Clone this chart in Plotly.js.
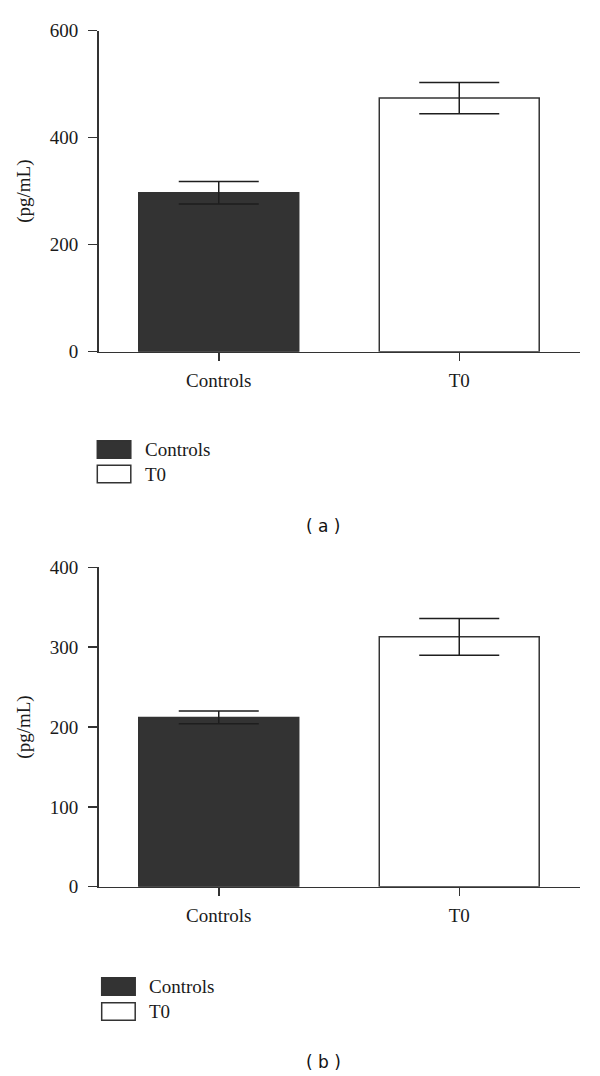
<!DOCTYPE html>
<html>
<head>
<meta charset="utf-8">
<script src="https://cdn.plot.ly/plotly-3.0.1.min.js"></script>
<style>html,body{margin:0;padding:0;background:#fff;}#chart{width:600px;height:1076px;}</style>
</head>
<body>
<div id="chart"></div>
<script>
// ---- data ----
const categories = ['Controls', 'T0'];
const panelA_mean = [297, 474];
const panelA_sem  = [21, 29];
const panelB_mean = [212, 313];
const panelB_sem  = [8, 23];
const barColors = ['#333333', '#ffffff'];
const yTitle = '(pg/mL)';
const captions = ['( a )', '( b )'];

const W = 600, H = 1076;
const px = v => v / W;
const py = v => 1 - v / H;
const ink = '#333333';
const serif = 'Liberation Serif, Times New Roman, serif';
const FS = 19;

function barTrace(mean, sem, xa, ya) {
  return {
    type: 'bar', x: categories, y: mean, xaxis: xa, yaxis: ya,
    width: 0.665,
    marker: {color: barColors, line: {color: ink, width: 1.5}},
    error_y: {type: 'data', array: sem, visible: true, color: '#1e1e1e', thickness: 1.5, width: 40},
    showlegend: false, hoverinfo: 'x+y'
  };
}

const data = [
  barTrace(panelA_mean, panelA_sem, 'x', 'y'),
  barTrace(panelB_mean, panelB_sem, 'x2', 'y2')
];

function xAxis(anchor) {
  return {
    anchor: anchor, domain: [px(98.5), px(579.5)], range: [-0.5, 1.5],
    type: 'category', showline: true, linecolor: ink, linewidth: 1.5,
    ticks: 'outside', ticklen: 8, tickwidth: 1.5, tickcolor: ink,
    showgrid: false, zeroline: false, fixedrange: true,
    tickfont: {family: serif, size: FS, color: '#1a1a1a'}, ticklabelstandoff: 3
  };
}
function yAxis(anchor, dom, max, dt) {
  return {
    anchor: anchor, domain: dom, range: [0, max], dtick: dt, tick0: 0,
    showline: true, linecolor: ink, linewidth: 1.5,
    ticks: 'outside', ticklen: 9, tickwidth: 1.5, tickcolor: ink,
    showgrid: false, zeroline: false, fixedrange: true,
    tickfont: {family: serif, size: FS, color: '#1a1a1a'}, ticklabelstandoff: 6,
    title: {text: yTitle, font: {family: serif, size: FS, color: '#1a1a1a'}, standoff: 14}
  };
}

const shapes = [];
const annotations = [];
function legend(x0, y0, gap, textX) {
  categories.forEach((c, i) => {
    const top = y0 + i * gap;
    shapes.push({type: 'rect', xref: 'paper', yref: 'paper',
      x0: px(x0), x1: px(x0 + 33.5), y0: py(top), y1: py(top + 17.5),
      fillcolor: barColors[i], line: {color: ink, width: 1.5}});
    annotations.push({xref: 'paper', yref: 'paper', x: px(textX), y: py(top + 9),
      xanchor: 'left', yanchor: 'middle', showarrow: false, text: c,
      font: {family: serif, size: FS, color: '#1a1a1a'}});
  });
}
legend(97.3, 440.7, 24.5, 142.5);
legend(101.7, 977.7, 25, 147);
const capFont = {family: 'DejaVu Sans, Arial, sans-serif', size: 17, color: '#111'};
annotations.push({xref: 'paper', yref: 'paper', x: px(323), y: py(526), xanchor: 'center', yanchor: 'middle',
  showarrow: false, text: captions[0], font: capFont});
annotations.push({xref: 'paper', yref: 'paper', x: px(323), y: py(1062), xanchor: 'center', yanchor: 'middle',
  showarrow: false, text: captions[1], font: capFont});

const layout = {
  width: W, height: H, margin: {l: 0, r: 0, t: 0, b: 0},
  paper_bgcolor: '#fff', plot_bgcolor: '#fff',
  xaxis: xAxis('y'),
  yaxis: yAxis('x', [py(351.7), py(30.7)], 600, 200),
  xaxis2: xAxis('y2'),
  yaxis2: yAxis('x2', [py(886.7), py(567.3)], 400, 100),
  shapes: shapes, annotations: annotations, bargap: 0.3
};

Plotly.newPlot('chart', data, layout, {displayModeBar: false, staticPlot: true});
</script>
</body>
</html>
